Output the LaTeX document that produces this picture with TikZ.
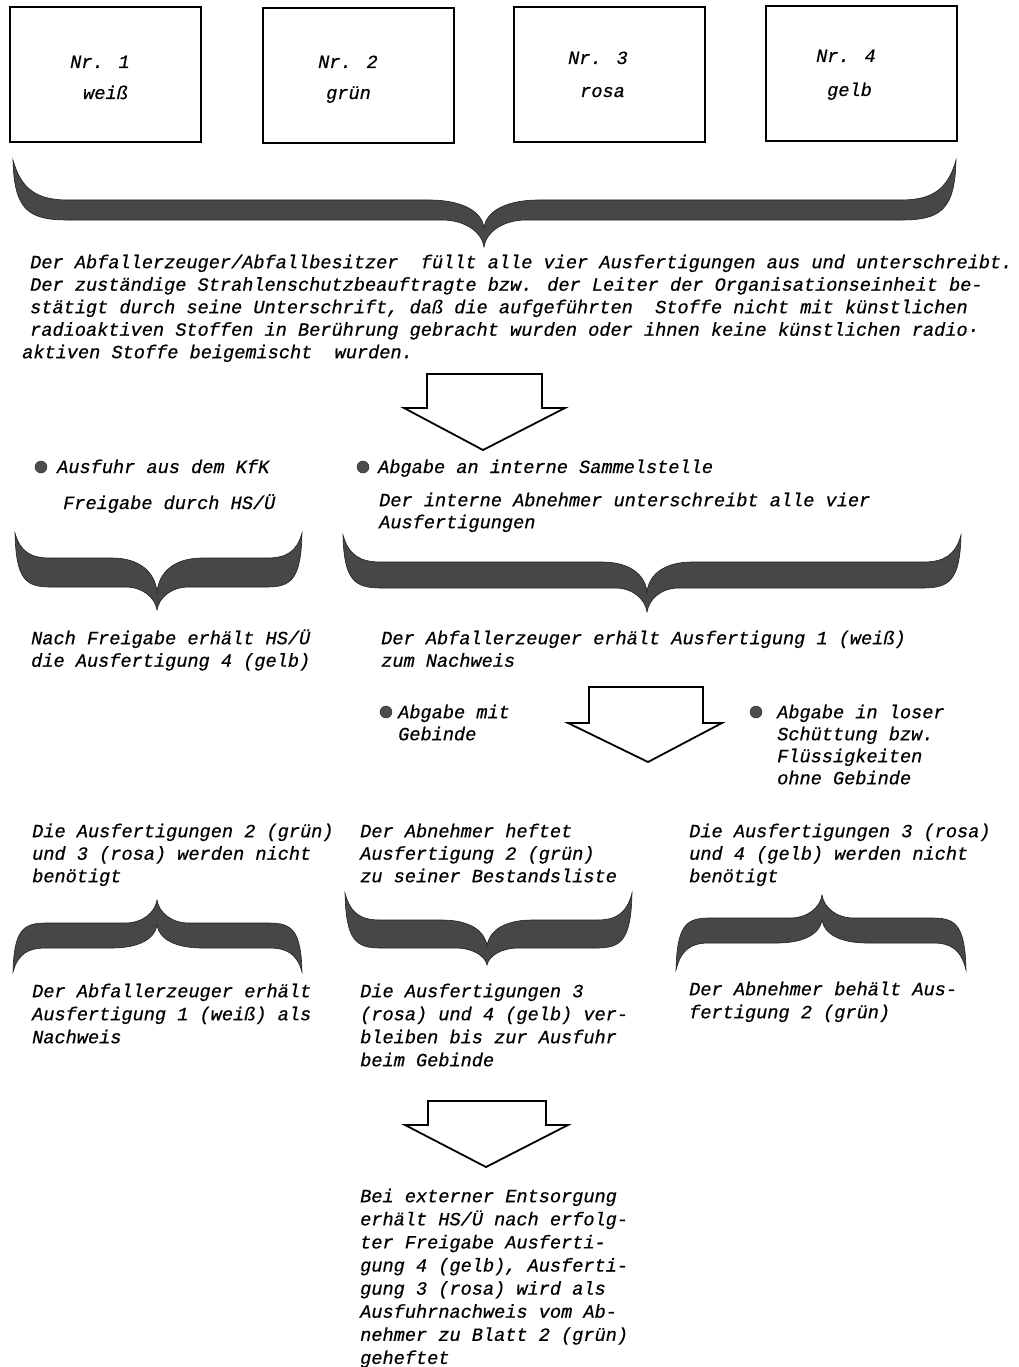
\documentclass[tikz,border=0pt]{standalone}
\usepackage{fontspec}
\newfontfamily\tw[FakeBold=0.6]{Liberation Mono}
\newcommand\R{\rule{0pt}{17pt}}
\newcommand\wi{45}
\newcommand\wo{32}
% brace: x0, x1, xc, ytip, yin, yout, yv, yc, h
\newcommand\brc[9]{%
 \fill[bracefill] (#1,#4) .. controls ({#1+1},{#4+0.85*(#6-#4)}) and ({#1+0.3*#9},#6) .. ({#1+#9},#6)
   -- ({#3-\wo},#6) .. controls ({#3-0.45*\wo},#6) and ({#3-2},{#6+0.45*(#8-#6)}) .. (#3,#8)
   .. controls ({#3+2},{#6+0.45*(#8-#6)}) and ({#3+0.45*\wo},#6) .. ({#3+\wo},#6)
   -- ({#2-#9},#6) .. controls ({#2-0.3*#9},#6) and ({#2-1},{#4+0.85*(#6-#4)}) .. (#2,#4)
   .. controls ({#2-0.15*#9},{#4+0.75*(#5-#4)}) and ({#2-0.45*#9},#5) .. ({#2-#9},#5)
   -- ({#3+\wi},#5) .. controls ({#3+0.4*\wi},#5) and ({#3+2},{#5+0.4*(#7-#5)}) .. (#3,#7)
   .. controls ({#3-2},{#5+0.4*(#7-#5)}) and ({#3-0.4*\wi},#5) .. ({#3-\wi},#5)
   -- ({#1+#9},#5) .. controls ({#1+0.45*#9},#5) and ({#1+0.15*#9},{#4+0.75*(#5-#4)}) .. (#1,#4) -- cycle;}
% block arrow: stem left, stem right, top, shoulder, wing left, wing right, tip x, tip y
\newcommand\barrow[8]{%
 \draw[blockarrow] (#1,#3) -- (#2,#3) -- (#2,#4) -- (#6,#4) -- (#7,#8) -- (#5,#4) -- (#1,#4) -- cycle;}
\begin{document}
\begin{tikzpicture}[x=1pt,y=-1pt,
  box/.style={draw=black, line width=2pt, minimum width=191pt, minimum height=135pt, inner sep=0pt},
  txt/.style={font={\tw\itshape\fontsize{18.6}{22.5}\selectfont}, inner sep=0pt, anchor=north west, align=left},
  lbl/.style={font={\tw\itshape\fontsize{18.6}{22.5}\selectfont}, inner sep=0pt, anchor=base west},
  bullet/.style={circle, fill=black!70, draw=black!85, minimum size=12pt, inner sep=0pt},
  bracefill/.style={fill=black!72, draw=black!88, line width=0.6pt},
  blockarrow/.style={draw=black, line width=1.8pt, fill=white, line join=miter}
]
\fill[white] (0,0) rectangle (1019,1367);
\useasboundingbox (0,0) rectangle (1019,1367);

% boxes
\node[box] (b1) at (105,75) {};
\node[box] (b2) at (358,75.5) {};
\node[box] (b3) at (609,75) {};
\node[box] (b4) at (861.5,74) {};
\node[lbl] (n1) at (70,68) {Nr. 1};
\node[lbl] (c1) at (83,99) {weiß};
\node[lbl] (n2) at (318,68) {Nr. 2};
\node[lbl] (c2) at (326,99) {grün};
\node[lbl] (n3) at (568,64) {Nr. 3};
\node[lbl] (c3) at (580,97) {rosa};
\node[lbl] (n4) at (816,62) {Nr. 4};
\node[lbl] (c4) at (827,96) {gelb};

% big brace
\renewcommand\wi{55}\renewcommand\wo{42}
\brc{13}{956}{484}{160}{200}{220}{228}{247}{55}

% paragraph
\node[txt] (p1) at (30,251) {\R Der Abfallerzeuger/Abfallbesitzer\ \ füllt alle vier Ausfertigungen aus und unterschreibt.\\
Der zuständige Strahlenschutzbeauftragte bzw. der Leiter der Organisationseinheit be-\\
stätigt durch seine Unterschrift, daß die aufgeführten\ \ Stoffe nicht mit künstlichen\\
radioaktiven Stoffen in Berührung gebracht wurden oder ihnen keine künstlichen radio·\\
\hspace*{-8pt}aktiven Stoffe beigemischt\ \ wurden.};

% arrow 1
\barrow{427}{542}{374}{408}{404}{565}{483}{450}

% row 2
\node[bullet] (d1) at (41,467) {};
\node[lbl] (t1) at (57,473) {Ausfuhr aus dem KfK};
\node[lbl] (t2) at (63,509) {Freigabe durch HS/Ü};
\node[bullet] (d2) at (363,467) {};
\node[lbl] (t3) at (378,473) {Abgabe an interne Sammelstelle};
\node[txt, font={\tw\itshape\fontsize{18.6}{22}\selectfont}] (t4) at (379,489) {\R Der interne Abnehmer unterschreibt alle vier\\Ausfertigungen};

\renewcommand\wi{45}\renewcommand\wo{32}
\brc{15}{302}{157}{533}{558}{587}{592}{610}{35}
\brc{343}{961}{647}{535}{562}{588}{592}{612}{38}

\node[txt] (t5) at (31,627) {\R Nach Freigabe erhält HS/Ü\\die Ausfertigung 4 (gelb)};
\node[txt] (t6) at (381,627) {\R Der Abfallerzeuger erhält Ausfertigung 1 (weiß)\\zum Nachweis};

% arrow 2
\barrow{589}{703}{687}{723}{568}{722}{648}{762}

\node[bullet] (d3) at (386,712) {};
\node[txt, font={\tw\itshape\fontsize{18.6}{22}\selectfont}] (t7) at (398,701) {\R Abgabe mit\\Gebinde};
\node[bullet] (d4) at (756,712) {};
\node[txt, font={\tw\itshape\fontsize{18.6}{22}\selectfont}] (t8) at (777,701) {\R Abgabe in loser\\Schüttung bzw.\\Flüssigkeiten\\ohne Gebinde};

% row 3
\node[txt] (t9) at (32,820) {\R Die Ausfertigungen 2 (grün)\\und 3 (rosa) werden nicht\\benötigt};
\node[txt] (t10) at (360,820) {\R Der Abnehmer heftet\\Ausfertigung 2 (grün)\\zu seiner Bestandsliste};
\node[txt] (t11) at (689,820) {\R Die Ausfertigungen 3 (rosa)\\und 4 (gelb) werden nicht\\benötigt};

% row 4 braces
\brc{13}{302}{157}{972}{948}{923}{925}{900}{33}
\brc{345}{632}{487}{893}{920}{948}{946}{965}{35}
\brc{676}{966}{822}{970}{943}{918}{920}{895}{33}

% row 5
\node[txt, font={\tw\itshape\fontsize{18.6}{23}\selectfont}] (t12) at (32,980) {\R Der Abfallerzeuger erhält\\Ausfertigung 1 (weiß) als\\Nachweis};
\node[txt, font={\tw\itshape\fontsize{18.6}{23}\selectfont}] (t13) at (360,980) {\R Die Ausfertigungen 3\\(rosa) und 4 (gelb) ver-\\bleiben bis zur Ausfuhr\\beim Gebinde};
\node[txt, font={\tw\itshape\fontsize{18.6}{23}\selectfont}] (t14) at (689,978) {\R Der Abnehmer behält Aus-\\fertigung 2 (grün)};

% arrow 3
\barrow{428}{546}{1101}{1125}{405}{568}{486}{1167}

\node[txt, font={\tw\itshape\fontsize{18.6}{23.1}\selectfont}] (t15) at (360,1185) {\R Bei externer Entsorgung\\erhält HS/Ü nach erfolg-\\ter Freigabe Ausferti-\\gung 4 (gelb), Ausferti-\\gung 3 (rosa) wird als\\Ausfuhrnachweis vom Ab-\\nehmer zu Blatt 2 (grün)\\geheftet};
\end{tikzpicture}
\end{document}
